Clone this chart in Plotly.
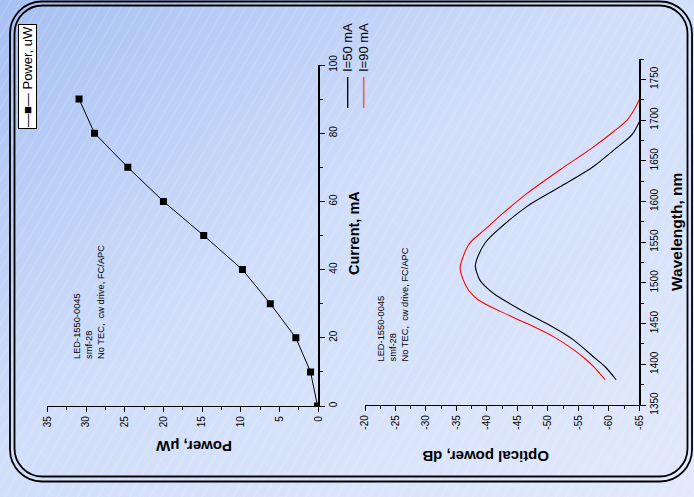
import base64
import plotly.graph_objects as go

# ---------------- data ----------------
current_ma = [0, 10, 20, 30, 40, 50, 60, 70, 80, 90]
power_uw = [0.1, 1.0, 2.9, 6.2, 9.8, 14.8, 20.0, 24.6, 28.9, 30.9]

wl_50 = [1381, 1397, 1409, 1430, 1450, 1467, 1487, 1496, 1504, 1520, 1528, 1549, 1565,
         1594, 1618, 1643, 1663, 1682, 1698]
op_50 = [-61.2, -59.4, -57.5, -54.2, -49.8, -45.5, -41.1, -39.7, -38.8, -38.1, -38.3, -39.7, -41.8,
         -46.6, -52.0, -57.5, -60.8, -63.8, -65.0]

wl_90 = [1381, 1397, 1405, 1418, 1434, 1450, 1465, 1479, 1491, 1504, 1518, 1528, 1549, 1565,
         1586, 1610, 1639, 1667, 1686, 1700, 1712, 1725]
op_90 = [-59.4, -57.5, -56.4, -54.2, -50.9, -46.6, -42.2, -38.6, -37.0, -36.1, -35.6, -35.9, -37.2,
         -39.6, -42.7, -46.6, -52.0, -57.5, -60.8, -63.0, -64.1, -65.0]

power_ticks = [35, 30, 25, 20, 15, 10, 5, 0]
power_ticktext = ["35", "30", "25", "20", "15", "10", "5", "0"]
current_ticks = [0, 20, 40, 60, 80, 100]
current_ticktext = ["0", "20", "40", "60", "80", "100"]
optical_ticks = [-20, -25, -30, -35, -40, -45, -50, -55, -60, -65]
optical_ticktext = ["-20", "-25", "-30", "-35", "-40", "-45", "-50", "-55", "-60", "-65"]
wl_ticks = [1350, 1400, 1450, 1500, 1550, 1600, 1650, 1700, 1750]
wl_ticktext = ["1350", "1400", "1450", "1500", "1550", "1600", "1650", "1700", "1750"]

series_names = ["I=50 mA", "I=90 mA"]
note_text = "LED-1550-0045<br>smf-28<br>No TEC,  cw drive, FC/APC"

W, H = 694, 497
FONT = "Liberation Sans, Arial, sans-serif"


def px(x):
    return x / W


def py(y):
    return 1 - y / H


# ---------------- background (gradient, hatching, rounded double frame) ----------------
svg = f'''<svg xmlns="http://www.w3.org/2000/svg" width="{W}" height="{H}" viewBox="0 0 {W} {H}">
<defs>
<linearGradient id="g" x1="0" y1="0" x2="1" y2="1">
<stop offset="0" stop-color="#a7c0f3"/>
<stop offset="0.45" stop-color="#d0defa"/>
<stop offset="1" stop-color="#e2e9fb"/>
</linearGradient>
<pattern id="h" width="9" height="9" patternUnits="userSpaceOnUse" patternTransform="rotate(30)">
<line x1="0" y1="0" x2="0" y2="9" stroke="#ffffff" stroke-opacity="0.4" stroke-width="0.8"/>
</pattern>
</defs>
<rect width="{W}" height="{H}" fill="url(#g)"/>
<rect width="{W}" height="{H}" fill="url(#h)"/>
<rect x="10" y="1.5" width="682" height="480" rx="32" fill="none" stroke="#000" stroke-width="1.8"/>
<rect x="14.5" y="5.5" width="673" height="471" rx="28" fill="none" stroke="#000" stroke-width="1.8"/>
</svg>'''
bg_src = "data:image/svg+xml;base64," + base64.b64encode(svg.encode()).decode()

fig = go.Figure()

fig.add_trace(go.Scatter(
    x=power_uw, y=current_ma, xaxis="x", yaxis="y", mode="lines+markers",
    line=dict(color="black", width=1),
    marker=dict(symbol="square", size=7, color="black"),
    showlegend=False, hoverinfo="skip"))

fig.add_trace(go.Scatter(
    x=op_50, y=wl_50, xaxis="x2", yaxis="y2", mode="lines", name=series_names[0],
    line=dict(color="black", width=1.1, shape="spline", smoothing=0.8),
    showlegend=False, hoverinfo="skip"))

fig.add_trace(go.Scatter(
    x=op_90, y=wl_90, xaxis="x2", yaxis="y2", mode="lines", name=series_names[1],
    line=dict(color="#ff0000", width=1.1, shape="spline", smoothing=0.8),
    showlegend=False, hoverinfo="skip"))

tickfont = dict(family=FONT, size=10, color="black")
common = dict(showline=True, linecolor="black", linewidth=1.2, ticks="outside", ticklen=5,
              tickwidth=1, tickcolor="black", showgrid=False, zeroline=False,
              tickangle=-90, tickfont=tickfont, fixedrange=True, automargin=False)

fig.update_layout(
    template="none",
    width=W, height=H, autosize=False,
    margin=dict(l=0, r=0, t=0, b=0, pad=0),
    paper_bgcolor="#d3dffa", plot_bgcolor="rgba(0,0,0,0)",
    font=dict(family=FONT, color="black"),
    showlegend=False,
    images=[dict(source=bg_src, xref="paper", yref="paper", x=0, y=1, sizex=1, sizey=1,
                 xanchor="left", yanchor="top", sizing="stretch", layer="below")],
    xaxis=dict(domain=[px(47.3), px(318.3)], range=[35, 0], anchor="y",
               tickvals=power_ticks, ticktext=power_ticktext,
               minor=dict(dtick=2.5, tick0=0, ticklen=3, tickcolor="black", ticks="outside"),
               **common),
    yaxis=dict(domain=[py(406), py(65)], range=[0, 100], anchor="x", side="right",
               tickvals=current_ticks, ticktext=current_ticktext,
               minor=dict(dtick=10, tick0=0, ticklen=3, tickcolor="black", ticks="outside"),
               **common),
    xaxis2=dict(domain=[px(365), px(639.3)], range=[-20, -65], anchor="y2",
                tickvals=optical_ticks, ticktext=optical_ticktext,
                minor=dict(dtick=2.5, tick0=0, ticklen=3, tickcolor="black", ticks="outside"),
                **common),
    yaxis2=dict(domain=[py(405), py(59)], range=[1350, 1775], anchor="x2", side="right",
                tickvals=wl_ticks, ticktext=wl_ticktext,
                minor=dict(dtick=25, tick0=1350, ticklen=3, tickcolor="black", ticks="outside"),
                **common),
)

ann = []
# axis titles
ann.append(dict(text="<b>Current, mA</b>", x=px(354), y=py(233), textangle=-90,
                font=dict(size=14.5)))
ann.append(dict(text="<b>Power, μW</b>", x=px(193.5), y=py(447), textangle=180,
                font=dict(size=15)))
ann.append(dict(text="<b>Optical power, dB</b>", x=px(485.5), y=py(457), textangle=180,
                font=dict(size=15)))
ann.append(dict(text="<b>Wavelength, nm</b>", x=px(677), y=py(232), textangle=-90,
                font=dict(size=15.5)))
# notes
ann.append(dict(text=note_text, x=px(88.5), y=py(301.5), textangle=-90, align="left",
                font=dict(size=9.3)))
ann.append(dict(text=note_text, x=px(392.5), y=py(305), textangle=-90, align="left",
                font=dict(size=9.3)))
# legend of left plot
ann.append(dict(text="—■— Power, uW", x=px(27.5), y=py(76.5), textangle=-90,
                font=dict(size=13), bgcolor="white", bordercolor="black", borderwidth=1,
                borderpad=1))
# legend of right plot
ann.append(dict(text=series_names[0], x=px(347.5), y=py(47.5), textangle=-90,
                font=dict(size=13)))
ann.append(dict(text=series_names[1], x=px(363.5), y=py(47.5), textangle=-90,
                font=dict(size=13)))
for a in ann:
    a.update(xref="paper", yref="paper", showarrow=False, xanchor="center", yanchor="middle")
fig.update_layout(annotations=ann)

fig.update_layout(shapes=[
    dict(type="line", xref="paper", yref="paper", x0=px(347.7), x1=px(347.7),
         y0=py(108), y1=py(77), line=dict(color="black", width=1.3)),
    dict(type="line", xref="paper", yref="paper", x0=px(363.7), x1=px(363.7),
         y0=py(108), y1=py(77), line=dict(color="#f05a5a", width=1.6)),
])

fig.write_html(
    "out.html",
    config={"displayModeBar": False, "staticPlot": True},
    post_script="document.body.style.margin='0px';document.body.style.padding='0px';"
                "document.documentElement.style.overflow='hidden';",
)
